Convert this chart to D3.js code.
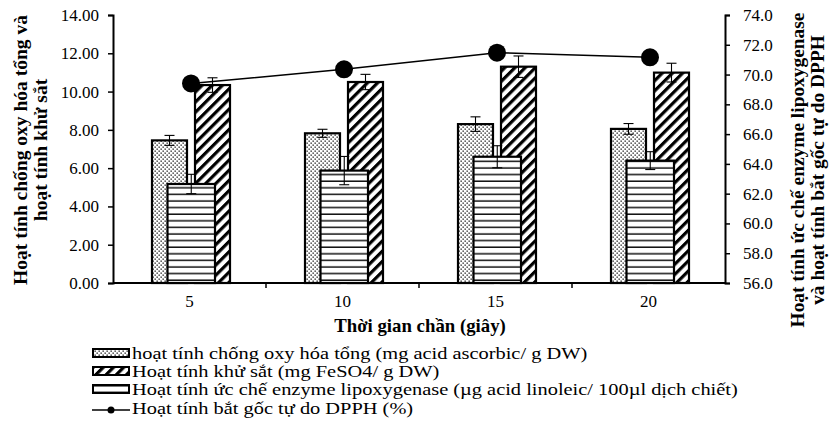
<!DOCTYPE html>
<html><head><meta charset="utf-8">
<script src="https://cdn.jsdelivr.net/npm/d3@7/dist/d3.min.js"></script>
<style>
html,body{margin:0;padding:0;background:#fff;}
svg{display:block;font-family:"Liberation Serif","Times New Roman",serif;}
</style></head>
<body>
<svg id="c" width="834" height="422"></svg>
<script>
// ---- data ----
const categories = ["5", "10", "15", "20"];
const antioxidant = [7.45, 7.82, 8.30, 8.05];        // left axis
const antioxidantErr = [0.26, 0.21, 0.38, 0.28];
const ironReducing = [10.34, 10.50, 11.30, 10.99];   // left axis
const ironReducingErr = [0.38, 0.40, 0.56, 0.49];
const lipoxygenase = [62.65, 63.55, 64.48, 64.22];   // right axis
const lipoxygenaseErr = [0.65, 0.95, 0.74, 0.60];
const dpph = [69.40, 70.35, 71.47, 71.16];           // right axis
const leftTicks = [0, 2, 4, 6, 8, 10, 12, 14];
const rightTicks = [56, 58, 60, 62, 64, 66, 68, 70, 72, 74];
const legendLabels = [
  "hoạt tính chống oxy hóa tổng (mg acid ascorbic/ g DW)",
  "Hoạt tính khử sắt (mg FeSO4/ g DW)",
  "Hoạt tính ức chế enzyme lipoxygenase  (µg acid linoleic/  100µl dịch chiết)",
  "Hoạt tính bắt gốc tự do DPPH (%)"
];
const xTitle = "Thời gian chần (giây)";
const leftTitle = ["Hoạt tính chống oxy hóa tổng và", "hoạt tính khử sắt"];
const rightTitle = ["Hoạt tính ức chế enzyme lipoxygenase", "và hoạt tính bắt gốc tự do DPPH"];

// ---- layout ----
const svg = d3.select("#c");
const L = 113, R = 725, T = 15, B = 283;
const x = d3.scaleBand().domain(categories).range([L, R]);
const yL = d3.scaleLinear().domain([0, 14]).range([B, T]);
const yR = d3.scaleLinear().domain([56, 74]).range([B, T]);
const bw = x.bandwidth();

// patterns
const defs = svg.append("defs");
const pd = defs.append("pattern").attr("id", "dots").attr("patternUnits", "userSpaceOnUse")
  .attr("width", 4).attr("height", 4);
pd.append("rect").attr("width", 4).attr("height", 4).attr("fill", "#fff");
pd.append("rect").attr("x", 0.5).attr("y", 0.5).attr("width", 1.3).attr("height", 1.3).attr("fill", "#111");
pd.append("rect").attr("x", 2.5).attr("y", 2.5).attr("width", 1.3).attr("height", 1.3).attr("fill", "#111");

const ph = defs.append("pattern").attr("id", "hatch").attr("patternUnits", "userSpaceOnUse")
  .attr("width", 7.2).attr("height", 7.2).attr("patternTransform", "rotate(45)");
ph.append("rect").attr("width", 7.2).attr("height", 7.2).attr("fill", "#fff");
ph.append("line").attr("x1", 1.6).attr("x2", 1.6).attr("y1", 0).attr("y2", 7.2)
  .attr("stroke", "#000").attr("stroke-width", 3.2);

const pl = defs.append("pattern").attr("id", "hlines").attr("patternUnits", "userSpaceOnUse")
  .attr("width", 10).attr("height", 6.6);
pl.append("rect").attr("width", 10).attr("height", 6.6).attr("fill", "#fff");
pl.append("line").attr("x1", 0).attr("x2", 10).attr("y1", 3).attr("y2", 3)
  .attr("stroke", "#000").attr("stroke-width", 1.4);

// bar offsets relative to category start
const off = {
  dot: [bw / 2 - 37.5, bw / 2 - 2.5],
  hat: [bw / 2 + 5.5, bw / 2 + 40.5],
  lin: [bw / 2 - 22, bw / 2 + 25.5]
};

function bars(data, scale, o, fill) {
  svg.append("g").selectAll("rect").data(data).join("rect")
    .attr("x", (d, i) => x(categories[i]) + o[0])
    .attr("width", o[1] - o[0])
    .attr("y", d => scale(d))
    .attr("height", d => scale.range()[0] - scale(d))
    .attr("fill", fill).attr("stroke", "#000").attr("stroke-width", 2.2);
}
function errs(data, err, scale, o) {
  const g = svg.append("g").attr("stroke", "#000").attr("stroke-width", 1.1);
  data.forEach((d, i) => {
    const cx = x(categories[i]) + (o[0] + o[1]) / 2;
    const y1 = scale(d + err[i]), y2 = scale(d - err[i]);
    g.append("line").attr("x1", cx).attr("x2", cx).attr("y1", y1).attr("y2", y2);
    g.append("line").attr("x1", cx - 5).attr("x2", cx + 5).attr("y1", y1).attr("y2", y1);
    g.append("line").attr("x1", cx - 5).attr("x2", cx + 5).attr("y1", y2).attr("y2", y2);
  });
}

bars(antioxidant, yL, off.dot, "url(#dots)");
bars(ironReducing, yL, off.hat, "url(#hatch)");
errs(antioxidant, antioxidantErr, yL, off.dot);
errs(ironReducing, ironReducingErr, yL, off.hat);
bars(lipoxygenase, yR, off.lin, "url(#hlines)");
errs(lipoxygenase, lipoxygenaseErr, yR, off.lin);

// DPPH line
const px = (d, i) => x(categories[i]) + bw / 2 + 1.5;
svg.append("path").datum(dpph)
  .attr("d", d3.line().x(px).y(d => yR(d)))
  .attr("fill", "none").attr("stroke", "#000").attr("stroke-width", 1.5);
svg.append("g").selectAll("circle").data(dpph).join("circle")
  .attr("cx", px).attr("cy", d => yR(d)).attr("r", 9).attr("fill", "#000");

// axes
const axL = svg.append("g").attr("transform", `translate(${L},0)`)
  .call(d3.axisLeft(yL).tickValues(leftTicks).tickFormat(d3.format(".2f")).tickSize(5).tickPadding(9));
const axR = svg.append("g").attr("transform", `translate(${R},0)`)
  .call(d3.axisRight(yR).tickValues(rightTicks).tickFormat(d3.format(".1f")).tickSize(5).tickPadding(13));
const axB = svg.append("g").attr("transform", `translate(0,${B})`)
  .call(d3.axisBottom(x).tickSize(0).tickPadding(12));
svg.append("g").selectAll("line").data(categories.slice(1)).join("line")
  .attr("x1", d => x(d)).attr("x2", d => x(d)).attr("y1", B).attr("y2", B + 5)
  .attr("stroke", "#000").attr("stroke-width", 1.5);
[axL, axR, axB].forEach(a => {
  a.selectAll("path").attr("stroke", "#000").attr("stroke-width", 2);
  a.selectAll("line").attr("stroke", "#000").attr("stroke-width", 1.5);
  a.selectAll("text").attr("font-size", "17px").attr("fill", "#000")
    .attr("font-family", "Liberation Serif");
});
axB.select("path").attr("d", `M${L},0H${R}`);
axB.selectAll("text").attr("dy", "0.71em");

// titles
svg.append("text").attr("x", 420).attr("y", 332).attr("text-anchor", "middle")
  .attr("font-weight", "bold").attr("font-size", "18.8px").text(xTitle);
const lt = svg.append("text").attr("transform", "translate(27,150) rotate(-90)")
  .attr("text-anchor", "middle").attr("font-weight", "bold").attr("font-size", "19.5px");
leftTitle.forEach((t, i) => lt.append("tspan").attr("x", 0).attr("y", i * 19.5).text(t));
const rt = svg.append("text").attr("transform", "translate(804,170) rotate(-90)")
  .attr("text-anchor", "middle").attr("font-weight", "bold").attr("font-size", "19.4px");
rightTitle.forEach((t, i) => rt.append("tspan").attr("x", 0).attr("y", i * 19.5).text(t));

// legend
const lg = svg.append("g");
const fills = ["url(#dots)", "url(#hatch)", "url(#hlines)"];
const sy = [353, 371, 389, 410];
const ty = [359, 377, 395, 414];
legendLabels.forEach((t, i) => {
  if (i < 3) {
    lg.append("rect").attr("x", 93).attr("y", sy[i] - 4).attr("width", 36).attr("height", 8)
      .attr("fill", fills[i]).attr("stroke", "#000").attr("stroke-width", 2);
  } else {
    lg.append("line").attr("x1", 92).attr("x2", 130).attr("y1", sy[i]).attr("y2", sy[i])
      .attr("stroke", "#000").attr("stroke-width", 1.5);
    lg.append("circle").attr("cx", 111).attr("cy", sy[i]).attr("r", 3.5).attr("fill", "#000");
  }
  lg.append("text").attr("transform", `translate(132,${ty[i]}) scale(1.2,1)`)
    .attr("font-size", "17px").text(t);
});
</script>
</body></html>
